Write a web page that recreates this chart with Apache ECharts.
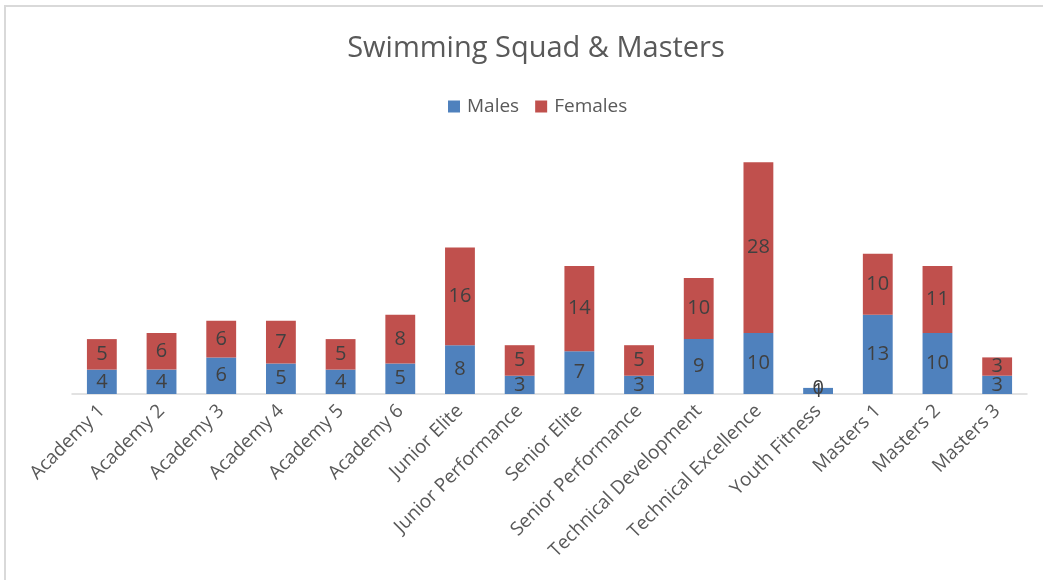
<!DOCTYPE html>
<html>
<head>
<meta charset="utf-8">
<script src="https://cdn.jsdelivr.net/npm/echarts@6/dist/echarts.min.js"></script>
<style>
  html, body { margin: 0; padding: 0; background: #fff; }
  #frame { position: absolute; left: 4px; top: 5px; width: 1039px; height: 575px;
           border-top: 2px solid #d9d9d9; border-left: 2px solid #d9d9d9; }
  #chart { position: absolute; left: 0; top: 0; width: 1043px; height: 580px; }
</style>
</head>
<body>
<div id="frame"></div>
<div id="chart"></div>
<script>
// squads along the x axis
const squads = ["Academy 1", "Academy 2", "Academy 3", "Academy 4", "Academy 5", "Academy 6",
  "Junior Elite", "Junior Performance", "Senior Elite", "Senior Performance",
  "Technical Development", "Technical Excellence", "Youth Fitness",
  "Masters 1", "Masters 2", "Masters 3"];
const males   = [4, 4, 6, 5, 4, 5, 8, 3, 7, 3, 9, 10, 1, 13, 10, 3];
const females = [5, 6, 6, 7, 5, 8, 16, 5, 14, 5, 10, 28, 0, 10, 11, 3];

const chart = echarts.init(document.getElementById("chart"));
const font = "'Open Sans', sans-serif";

const labelStyle = {
  show: true,
  position: "inside",
  color: "#404040",
  fontSize: 20,
  fontFamily: font
};

chart.setOption({
  animation: false,
  title: {
    text: "Swimming Squad & Masters",
    left: 531,
    textAlign: "center",
    top: 29,
    textStyle: { color: "#595959", fontSize: 29, fontWeight: "normal", fontFamily: font }
  },
  legend: {
    data: ["Males", "Females"],
    left: 443,
    top: 92,
    itemWidth: 12,
    itemHeight: 12,
    itemGap: 16,
    icon: "rect",
    textStyle: { color: "#595959", fontSize: 19, fontFamily: font, padding: [0, 0, 0, 2] }
  },
  grid: { left: 72, right: 16, top: 150, bottom: 186 },
  xAxis: {
    type: "category",
    data: squads,
    axisLine: { lineStyle: { color: "#d9d9d9", width: 1.5 } },
    axisTick: { show: false },
    axisLabel: {
      interval: 0,
      rotate: 45,
      margin: 14,
      color: "#595959",
      fontSize: 19,
      fontFamily: font
    }
  },
  yAxis: {
    type: "value",
    min: 0,
    max: 40,
    interval: 5,
    show: false,
    splitLine: { show: false }
  },
  series: [
    {
      name: "Males",
      type: "bar",
      stack: "total",
      barWidth: "50%",
      data: males,
      itemStyle: { color: "#4f81bd" },
      label: labelStyle
    },
    {
      name: "Females",
      type: "bar",
      stack: "total",
      barWidth: "50%",
      data: females,
      itemStyle: { color: "#c0504d" },
      label: labelStyle
    }
  ]
});
</script>
</body>
</html>
